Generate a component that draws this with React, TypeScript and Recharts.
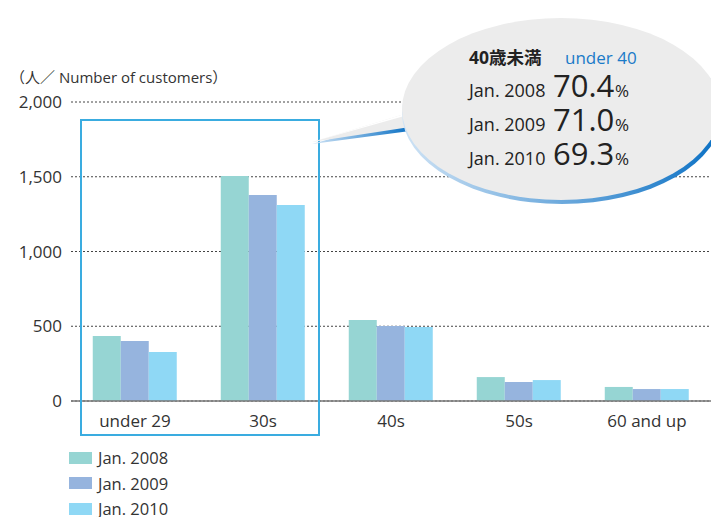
import React from 'react'
import {
  Bar,
  BarChart,
  CartesianGrid,
  XAxis,
  YAxis,
} from 'recharts'

const categories = ['under 29', '30s', '40s', '50s', '60 and up']
const jan2008 = [435, 1505, 542, 160, 94]
const jan2009 = [401, 1378, 502, 127, 80]
const jan2010 = [328, 1311, 495, 140, 80]
const yTicks = [0, 500, 1000, 1500, 2000]

const seriesNames = ['Jan. 2008', 'Jan. 2009', 'Jan. 2010']
const seriesColors = ['#96d5d3', '#96b4de', '#8fd8f5']

// share of customers under 40, shown in the callout
const shareLabels = ['Jan. 2008', 'Jan. 2009', 'Jan. 2010']
const shareValues = ['70.4', '71.0', '69.3']

const FONT = "'Open Sans', 'Noto Sans CJK JP', sans-serif"

const data = categories.map((c, i) => ({
  name: c,
  y2008: jan2008[i],
  y2009: jan2009[i],
  y2010: jan2010[i],
}))

const fmt = (n: number) => n.toLocaleString('en-US')

function LegendBox() {
  return (
    <div
      style={{
        position: 'absolute',
        left: 69,
        top: 445,
        fontFamily: FONT,
        fontSize: 16.5,
        lineHeight: '17px',
        color: '#333',
      }}
    >
      {seriesNames.map((s, i) => (
        <div
          key={s}
          style={{ display: 'flex', alignItems: 'center', height: 25.5, whiteSpace: 'nowrap' }}
        >
          <span
            style={{
              width: 23,
              height: 12,
              background: seriesColors[i],
              marginRight: 6,
              display: 'inline-block',
            }}
          />
          <span>{s}</span>
        </div>
      ))}
    </div>
  )
}

function Callout() {
  return (
    <svg
      width={711}
      height={517}
      style={{ position: 'absolute', left: 0, top: 0, pointerEvents: 'none' }}
    >
      <defs>
        <linearGradient id="rim" x1="0" y1="0" x2="1" y2="0">
          <stop offset="0%" stopColor="#cfe3f5" />
          <stop offset="100%" stopColor="#0a70c4" />
        </linearGradient>
      </defs>
      {/* highlight frame around the under-40 groups */}
      <rect x={81} y={120} width={238} height={315} fill="none" stroke="#3aace0" strokeWidth={2} />

      {/* bubble tail */}
      <polygon points="312,144 408,117 410,131" fill="url(#rim)" />
      <polygon points="312,142 408,113 410,127" fill="#ececec" />
      <polygon points="312,142 408,113 408,115" fill="#ffffff" />

      {/* bubble body */}
      <ellipse cx={562} cy={113} rx={160} ry={91} fill="url(#rim)" />
      <ellipse cx={561} cy={109} rx={159} ry={91} fill="#ececec" />

      <text x={469} y={64} fontFamily={FONT} fontSize={17.5} fontWeight={700} fill="#222">
        40歳未満
      </text>
      <text x={565} y={64} fontFamily={FONT} fontSize={17} fill="#1a7ac8">
        under 40
      </text>
      {shareLabels.map((l, i) => (
        <React.Fragment key={l}>
          <text x={469} y={97 + i * 34} fontFamily={FONT} fontSize={18} fill="#222">
            {l}
          </text>
          <text x={553} y={97 + i * 34} fontFamily={FONT} fontSize={31} fill="#222">
            {shareValues[i]}
          </text>
          <text x={615} y={97 + i * 34} fontFamily={FONT} fontSize={17} fill="#222">
            %
          </text>
        </React.Fragment>
      ))}
    </svg>
  )
}

export default function App() {
  return (
    <div
      style={{
        position: 'absolute',
        left: 0,
        top: 0,
        width: 711,
        height: 517,
        overflow: 'hidden',
        background: '#fff',
      }}
    >
      <div
        style={{
          position: 'absolute',
          left: 10,
          top: 66,
          fontFamily: FONT,
          fontSize: 15,
          color: '#333',
          whiteSpace: 'nowrap',
        }}
      >
        （人／ Number of customers）
      </div>
      <BarChart
        width={711}
        height={517}
        data={data}
        margin={{ top: 102, right: 0, bottom: 86, left: 0 }}
        barCategoryGap="17%"
        barGap={0}
      >
        <CartesianGrid
          horizontal
          vertical={false}
          stroke="#444"
          strokeDasharray="2 2"
        />
        <XAxis
          dataKey="name"
          height={30}
          tickLine={false}
          tickSize={0}
          tickMargin={14}
          axisLine={{ stroke: '#777', strokeWidth: 1.5 }}
          tick={{ fill: '#333', fontSize: 17, fontFamily: FONT }}
        />
        <YAxis
          width={71}
          domain={[0, 2000]}
          ticks={yTicks}
          tickFormatter={fmt}
          axisLine={false}
          tickLine={false}
          tickSize={0}
          tickMargin={9}
          tick={{ fill: '#333', fontSize: 17, fontFamily: FONT }}
        />
        <Bar dataKey="y2008" name={seriesNames[0]} fill={seriesColors[0]} isAnimationActive={false} />
        <Bar dataKey="y2009" name={seriesNames[1]} fill={seriesColors[1]} isAnimationActive={false} />
        <Bar dataKey="y2010" name={seriesNames[2]} fill={seriesColors[2]} isAnimationActive={false} />
      </BarChart>
      <LegendBox />
      <Callout />
    </div>
  )
}
